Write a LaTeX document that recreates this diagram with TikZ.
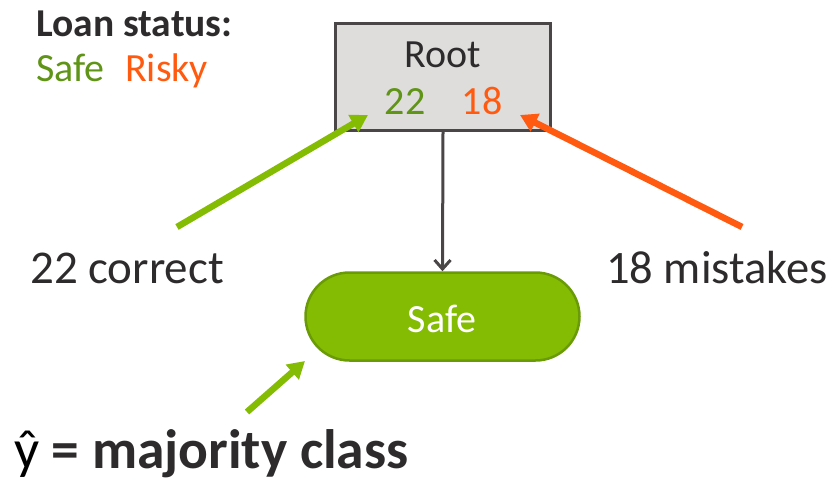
\documentclass[tikz,border=0pt]{standalone}
\usepackage{fontspec}
\setmainfont{Carlito}
\usetikzlibrary{arrows.meta}
\definecolor{txt}{HTML}{2E2B2C}
\definecolor{safetxt}{HTML}{5F9416}
\definecolor{risky}{HTML}{FF5A0F}
\definecolor{leafgreen}{HTML}{84BC04}
\definecolor{leafedge}{HTML}{6A9A06}
\definecolor{rootfill}{HTML}{DEDDDC}
\definecolor{rootedge}{HTML}{4A4546}
\tikzset{
  lbl/.style={anchor=base west, inner sep=0pt, text=txt},
  ctr/.style={anchor=base, inner sep=0pt, font=\fontsize{40}{44}\selectfont},
  callout/.style={line width=6.5pt, -{Triangle[length=17pt,width=19pt]}},
}
\begin{document}
\begin{tikzpicture}[x=1pt,y=-1pt]
\useasboundingbox (0,0) rectangle (832,481);
% root box
\node[draw=rootedge, line width=3pt, fill=rootfill, minimum width=215pt, minimum height=107pt, inner sep=0pt] (root) at (443,77) {};
\node[ctr, text=txt] (roottxt) at (443,68) {Root};
\node[ctr, text=safetxt] (n22) at (405,115) {22};
\node[ctr, text=risky] (n18) at (482,115) {18};
% leaf
\node[draw=leafedge, line width=2.5pt, fill=leafgreen, rounded corners=44pt, minimum width=274pt, minimum height=88pt, inner sep=0pt] (leaf) at (442.5,316.5) {};
\node[ctr, text=white] (leaftxt) at (442,332) {Safe};
\draw[rootedge, line width=3pt, -{Straight Barb[length=9pt,width=16pt,line width=3pt]}] (root.south) -- (leaf.north);
% legend
\node[lbl, font=\bfseries\fontsize{39.5}{44}\selectfont] (legend) at (36,37) {Loan status:};
\node[lbl, text=safetxt, font=\fontsize{40}{44}\selectfont] (lsafe) at (36,82) {Safe};
\node[lbl, text=risky, font=\fontsize{40}{44}\selectfont] (lrisky) at (125,82) {Risky};
% labels
\node[lbl, font=\fontsize{47}{50}\selectfont] (correct) at (30,283) {22 correct};
\node[lbl, font=\fontsize{46.5}{50}\selectfont] (mistakes) at (606,283) {18 mistakes};
\node[lbl, font=\fontsize{55.5}{60}\selectfont] (yhat) at (14,468) {\textcolor{black}{ŷ} \bfseries = majority class};
% callout arrows
\coordinate (c1t) at (177,227);
\coordinate (c1h) at (368,115);
\coordinate (c2t) at (742,227);
\coordinate (c2h) at (520,115);
\coordinate (c3t) at (247,412);
\coordinate (c3h) at (305,361);
\draw[callout, leafgreen] (c1t) -- (c1h);
\draw[callout, risky] (c2t) -- (c2h);
\draw[callout, leafgreen] (c3t) -- (c3h);
\end{tikzpicture}
\end{document}
